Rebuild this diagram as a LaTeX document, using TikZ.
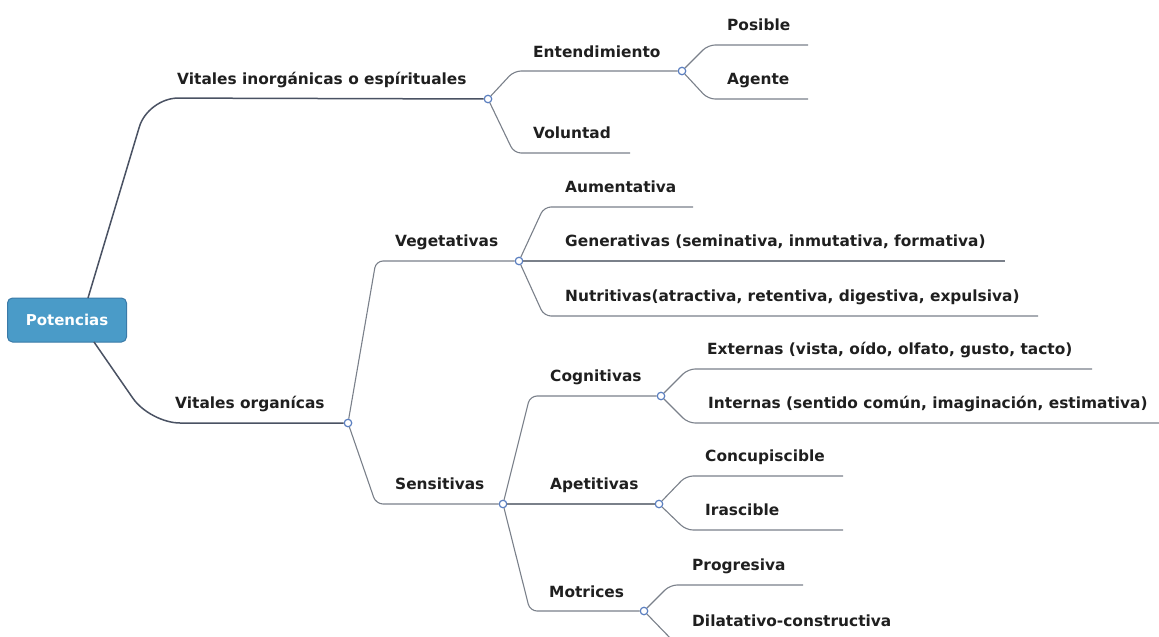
\documentclass[tikz,border=0pt]{standalone}
\usepackage{fontspec}
\setmainfont{DejaVu Sans}
\definecolor{linegray}{HTML}{7A808A}
\definecolor{rootgray}{HTML}{4A5263}
\definecolor{dotblue}{HTML}{5B7FC0}
\definecolor{rootfill}{HTML}{4A9BC8}
\definecolor{rootdraw}{HTML}{3A7AA8}
\begin{document}
\begin{tikzpicture}[x=1pt,y=-1pt,
  lbl/.style={anchor=base west, inner sep=0pt, font=\bfseries\fontsize{15.4}{18}\selectfont, text=black!88},
  dot/.style={circle, draw=dotblue, fill=white, line width=1.2pt, minimum size=7.5pt, inner sep=0pt},
  br/.style={draw=linegray, line width=1.1pt, rounded corners=7pt},
  rootbr/.style={draw=rootgray, line width=1.5pt, rounded corners=30pt},
  rootbox/.style={rectangle, rounded corners=5pt, fill=rootfill, draw=rootdraw, line width=1pt,
    minimum width=119pt, minimum height=44pt, text=white, font=\bfseries\fontsize{15}{18}\selectfont}]
\useasboundingbox (0,0) rectangle (1159,637);

% root
\node[rootbox] (root) at (67,320) {Potencias};
\coordinate (r1) at (88,298);
\coordinate (r2) at (94,342);

% dots
\node[dot] (c1) at (488,99) {};
\node[dot] (c2) at (682,71) {};
\node[dot] (c3) at (348,423) {};
\node[dot] (c4) at (519,261) {};
\node[dot] (c5) at (503,504) {};
\node[dot] (c6) at (661,396) {};
\node[dot] (c7) at (659,504) {};
\node[dot] (c8) at (644,611) {};

% root branches
\draw[rootbr] (r1) -- (148,98) -- (c1);
\draw[rootbr] (r2) -- (150,423) -- (c3);

% ends
\coordinate (eVol) at (630,153);
\coordinate (ePos) at (808,45);
\coordinate (eAge) at (808,99);
\coordinate (eAum) at (693,207);
\coordinate (eGen) at (1005,261);
\coordinate (eNut) at (1038,316);
\coordinate (eExt) at (1092,369);
\coordinate (eInt) at (1165,423);
\coordinate (eCon) at (843,476);
\coordinate (eIra) at (843,530);
\coordinate (ePro) at (803,585);
\coordinate (eDil) at (900,642);

% branches
\draw[br] (c1) -- (514,71) -- (c2);
\draw[br] (c1) -- (514,153) -- (eVol);
\draw[br] (c2) -- (708,45) -- (ePos);
\draw[br] (c2) -- (708,99) -- (eAge);
\draw[br] (c3) -- (376,261) -- (c4);
\draw[br] (c3) -- (376,504) -- (c5);
\draw[br] (c4) -- (544,207) -- (eAum);
\draw[br] (c4) -- (eGen);
\draw[br] (c4) -- (544,316) -- (eNut);
\draw[br] (c5) -- (530,396) -- (c6);
\draw[br] (c5) -- (c7);
\draw[br] (c5) -- (530,611) -- (c8);
\draw[br] (c6) -- (688,369) -- (eExt);
\draw[br] (c6) -- (688,423) -- (eInt);
\draw[br] (c7) -- (686,476) -- (eCon);
\draw[br] (c7) -- (686,530) -- (eIra);
\draw[br] (c8) -- (670,585) -- (ePro);
\draw[br] (c8) -- (674,642) -- (eDil);

% labels
\node[lbl] (lVin) at (177,84) {Vitales inorgánicas o espírituales};
\node[lbl] (lEnt) at (533,57) {Entendimiento};
\node[lbl] (lVol) at (533,138) {Voluntad};
\node[lbl] (lPos) at (727,30) {Posible};
\node[lbl] (lAge) at (727,84) {Agente};
\node[lbl] (lVor) at (175,408) {Vitales organícas};
\node[lbl] (lVeg) at (395,246) {Vegetativas};
\node[lbl] (lSen) at (395,489) {Sensitivas};
\node[lbl] (lAum) at (565,192) {Aumentativa};
\node[lbl] (lGen) at (565,246) {Generativas (seminativa, inmutativa, formativa)};
\node[lbl] (lNut) at (565,301) {Nutritivas(atractiva, retentiva, digestiva, expulsiva)};
\node[lbl] (lCog) at (550,381) {Cognitivas};
\node[lbl] (lApe) at (550,489) {Apetitivas};
\node[lbl] (lMot) at (549,597) {Motrices};
\node[lbl] (lExt) at (707,354) {Externas (vista, oído, olfato, gusto, tacto)};
\node[lbl] (lInt) at (708,408) {Internas (sentido común, imaginación, estimativa)};
\node[lbl] (lCon) at (705,461) {Concupiscible};
\node[lbl] (lIra) at (705,515) {Irascible};
\node[lbl] (lPro) at (692,570) {Progresiva};
\node[lbl] (lDil) at (692,626) {Dilatativo-constructiva};
\end{tikzpicture}
\end{document}
